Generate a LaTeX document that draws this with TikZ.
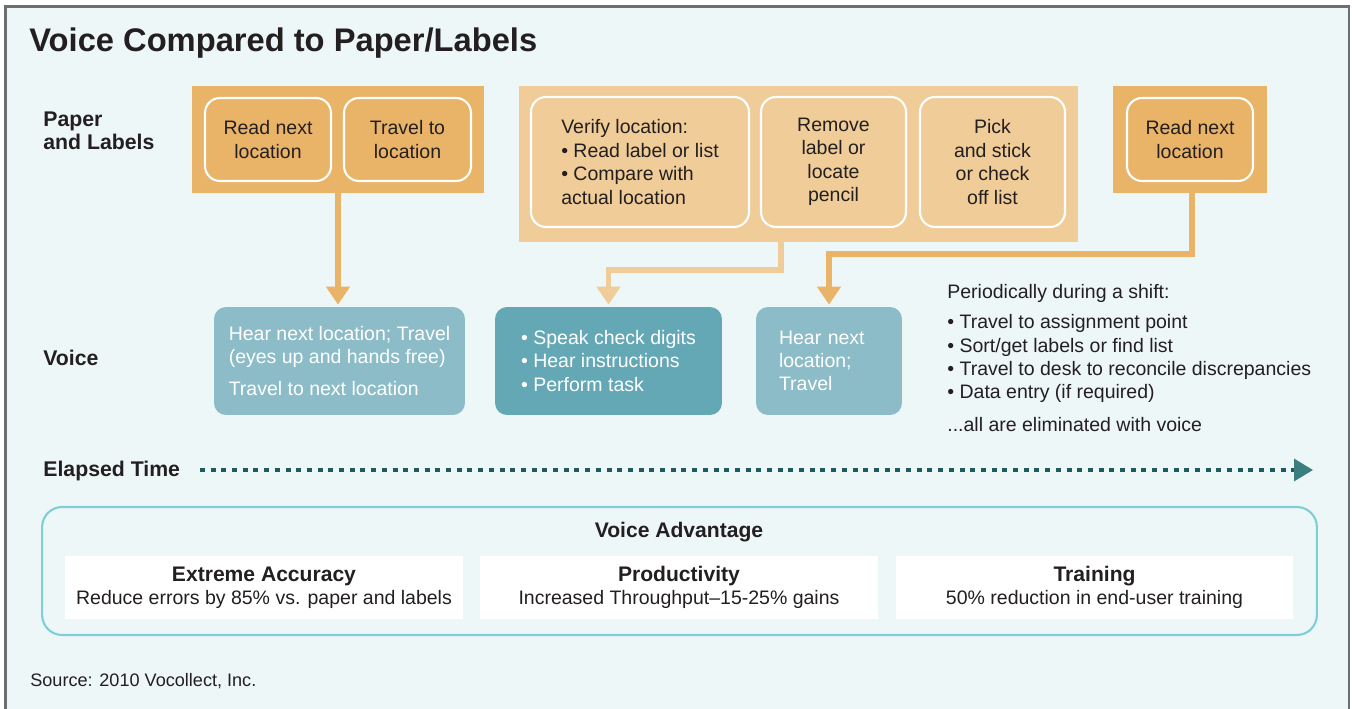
\documentclass[tikz,border=0pt]{standalone}
\usepackage{fontspec}
\setmainfont{Liberation Sans}
\usetikzlibrary{arrows.meta}

\definecolor{ink}{HTML}{231F20}
\definecolor{panel}{HTML}{EEF7F8}
\definecolor{framegray}{HTML}{6D6E71}
\definecolor{orng}{HTML}{EAB468}
\definecolor{orngl}{HTML}{F0CC98}
\definecolor{tealA}{HTML}{8CBCC7}
\definecolor{tealB}{HTML}{65A8B5}
\definecolor{tealdk}{HTML}{1E5B5E}
\definecolor{tealtip}{HTML}{3B7E80}
\definecolor{advline}{HTML}{7ECFD5}

\begin{document}
\begin{tikzpicture}[x=0.02cm, y=-0.02cm,
    every node/.append style={text=ink, font=\fontsize{11.1}{13.3}\selectfont, inner sep=0pt},
    lbl/.style={font=\fontsize{12.1}{13.3}\selectfont\bfseries, align=left, anchor=west},
    grp/.style={fill=#1},
    cell/.style={draw=white, line width=1.2pt, rounded corners=0.3cm, fill=#1, align=center},
    vbox/.style={fill=#1, rounded corners=0.24cm, text=white, align=left},
    wbox/.style={fill=white, align=center, minimum width=7.96cm, minimum height=1.26cm},
    link/.style={draw=#1, line width=3.2pt, shorten >=0.04cm, -{Triangle[width=0.46cm,length=0.36cm]}},
    dotline/.style={draw=tealdk, line width=1.9pt, dash pattern=on 0.1cm off 0.114cm,
      -{Triangle[width=0.44cm,length=0.38cm,color=tealtip]}}]

  \useasboundingbox (0,0) rectangle (1352,709);
  \fill[white] (0,0) rectangle (1352,709);
  \draw[draw=framegray, fill=panel, line width=1.5pt] (5.5,6.5) rectangle (1349,715);

  \node[font=\fontsize{18.6}{20}\selectfont\bfseries, anchor=base west] (title) at (29,52) {Voice Compared to Paper/Labels};

  % row labels
  \node[lbl] (lpaper) at (43,131) {Paper\\and Labels};
  \node[lbl] (lvoice) at (43,358) {Voice};
  \node[lbl] (ltime) at (43,471) {Elapsed Time};

  % paper and labels steps
  \node[grp=orng, minimum width=5.84cm, minimum height=2.14cm] (pg1) at (338,139.5) {};
  \node[cell=orng, minimum width=2.52cm, minimum height=1.66cm] (read1) at (268,139.5) {Read next\\location};
  \node[cell=orng, minimum width=2.54cm, minimum height=1.66cm] (trav) at (407.5,139.5) {Travel to\\location};

  \node[grp=orngl, minimum width=11.18cm, minimum height=3.12cm] (pg2) at (798.5,164) {};
  \node[cell=orngl, align=left, minimum width=4.36cm, minimum height=2.6cm] (verify) at (640,162)
    {Verify location:\\• Read label or list\\• Compare with\\actual location};
  \node[cell=orngl, minimum width=2.9cm, minimum height=2.6cm] (remove) at (833.5,162) {Remove\\label or\\locate\\pencil};
  \node[cell=orngl, minimum width=2.9cm, minimum height=2.6cm] (pick) at (992.5,162) {Pick\\and stick\\or check\\off list};

  \node[grp=orng, minimum width=3.08cm, minimum height=2.14cm] (pg3) at (1190,139.5) {};
  \node[cell=orng, minimum width=2.52cm, minimum height=1.66cm] (read2) at (1190,139.5) {Read next\\location};

  % voice steps
  \node[vbox=tealA, minimum width=5.02cm, minimum height=2.16cm] (hear1) at (339.5,361)
    {Hear next location; Travel\\(eyes up and hands free)\\[0.16cm]Travel to next location};
  \node[vbox=tealB, minimum width=4.54cm, minimum height=2.16cm] (speak) at (608.5,361)
    {• Speak check digits\\• Hear instructions\\• Perform task};
  \node[vbox=tealA, minimum width=2.92cm, minimum height=2.16cm, text width=2cm] (hear2) at (829,361)
    {Hear next\\location;\\Travel};

  \node[anchor=north west, align=left] (shift) at (947,284)
    {Periodically during a shift:\\[0.14cm]• Travel to assignment point\\• Sort/get labels or find list\\
     • Travel to desk to reconcile discrepancies\\• Data entry (if required)\\[0.18cm]...all are eliminated with voice};

  % connectors
  \draw[link=orng] (pg1.south) -- (pg1.south |- hear1.north);
  \coordinate (k2) at (781,270);
  \draw[link=orngl] (k2 |- pg2.south) -- (k2) -- (k2 -| speak.north) -- (speak.north);
  \coordinate (k3) at (1192,254);
  \draw[link=orng] (k3 |- pg3.south) -- (k3) -- (k3 -| hear2.north) -- (hear2.north);

  % elapsed time
  \coordinate (tstart) at (200,470);
  \coordinate (tend) at (1313,470);
  \draw[dotline] (tstart) -- (tend);

  % advantage panel
  \node[draw=advline, line width=1.2pt, rounded corners=0.4cm, minimum width=25.5cm, minimum height=2.56cm] (adv) at (679.5,571) {};
  \node[font=\fontsize{12}{13.3}\selectfont\bfseries] (advt) at (679,532) {Voice Advantage};
  \node[wbox] (acc) at (264,587.5) {{\fontsize{12}{13.3}\selectfont\bfseries Extreme Accuracy}\\Reduce errors by 85\% vs. paper and labels};
  \node[wbox] (prod) at (679,587.5) {{\fontsize{12}{13.3}\selectfont\bfseries Productivity}\\Increased Throughput--15-25\% gains};
  \node[wbox] (train) at (1094.5,587.5) {{\fontsize{12}{13.3}\selectfont\bfseries Training}\\50\% reduction in end-user training};

  \node[anchor=west, font=\fontsize{10.3}{12}\selectfont] (src) at (30,681) {Source: 2010 Vocollect, Inc.};
\end{tikzpicture}
\end{document}
